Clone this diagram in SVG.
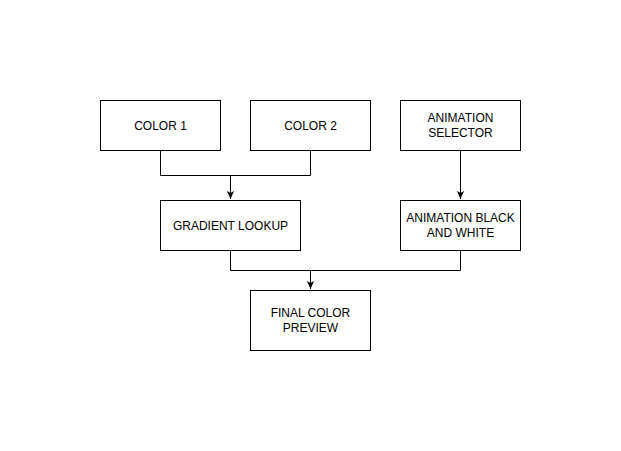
<svg xmlns="http://www.w3.org/2000/svg" width="621" height="451" viewBox="0 0 621 451">
<defs>
<marker id="arr" viewBox="0 0 10 10" refX="10" refY="5" markerWidth="8" markerHeight="8" markerUnits="userSpaceOnUse" orient="auto">
<path d="M0,0.5 L10,5 L0,9.5 L2.5,5 Z" fill="#000"/>
</marker>
<style>
.box{fill:#fff;stroke:#000;stroke-width:1}
.lbl{font-family:"Liberation Sans",Arial,sans-serif;font-size:12px;fill:#000;text-anchor:middle}
.edge{fill:none;stroke:#000;stroke-width:1}
</style>
</defs>
<rect width="621" height="451" fill="#fff"/>
<g id="connectors">
<path class="edge" d="M160.5,150.5 V175.5 H310.5 V150.5"/>
<path class="edge" d="M230.5,175.5 V199" marker-end="url(#arr)"/>
<path class="edge" d="M460.5,150.5 V199" marker-end="url(#arr)"/>
<path class="edge" d="M230.5,250.5 V270.5 H460.5 V250.5"/>
<path class="edge" d="M310.5,270.5 V289" marker-end="url(#arr)"/>
</g>
<g id="color1"><rect class="box" x="100.5" y="100.5" width="120" height="50"/><text class="lbl" x="160.5" y="130">COLOR 1</text></g>
<g id="color2"><rect class="box" x="250.5" y="100.5" width="120" height="50"/><text class="lbl" x="310.5" y="130">COLOR 2</text></g>
<g id="animSelector"><rect class="box" x="400.5" y="100.5" width="120" height="50"/><text class="lbl" x="460.5" y="122">ANIMATION</text><text class="lbl" x="460.5" y="137">SELECTOR</text></g>
<g id="gradient"><rect class="box" x="160.5" y="200.5" width="140" height="50"/><text class="lbl" x="230.5" y="230">GRADIENT LOOKUP</text></g>
<g id="animBW"><rect class="box" x="400.5" y="200.5" width="120" height="50"/><text class="lbl" x="460.5" y="222">ANIMATION BLACK</text><text class="lbl" x="460.5" y="237">AND WHITE</text></g>
<g id="final"><rect class="box" x="250.5" y="290.5" width="120" height="60"/><text class="lbl" x="310.5" y="317">FINAL COLOR</text><text class="lbl" x="310.5" y="332">PREVIEW</text></g>
</svg>
